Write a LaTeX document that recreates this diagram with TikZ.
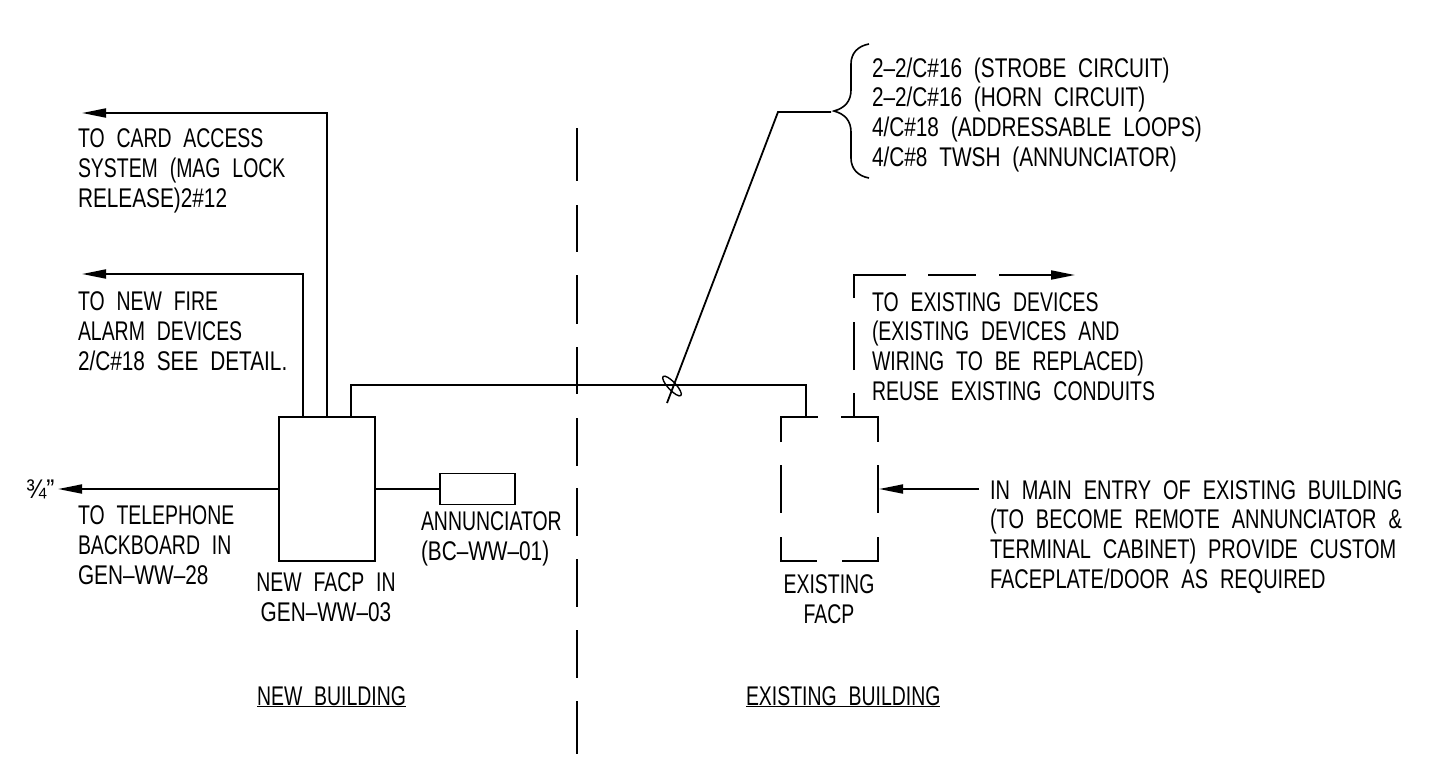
\documentclass[tikz,border=0pt]{standalone}
\usepackage{fontspec}
\setmainfont[FakeStretch=0.72,WordSpace=2.2]{Liberation Sans}
\newfontfamily\wideA[Ligatures=TeX,FakeStretch=0.77,WordSpace=2.05]{Liberation Sans}
\newfontfamily\wideB[Ligatures=TeX,FakeStretch=0.74,WordSpace=2.15]{Liberation Sans}
\newfontfamily\fracfont[FakeStretch=0.9]{Liberation Sans}
\usetikzlibrary{arrows.meta}
\tikzset{
  wire/.style={draw=black,line width=1.8pt},
  lbl/.style={inner sep=0pt,outer sep=0pt,anchor=base west,align=left,font=\fontsize{27}{29.6}\selectfont,text=black},
  ctr/.style={inner sep=0pt,outer sep=0pt,anchor=base,align=center,font=\fontsize{27}{29.6}\selectfont,text=black},
  tip/.style={-{Triangle[length=24pt,width=9pt]}},
  boxn/.style={draw=black,line width=1.8pt,inner sep=0pt,minimum width=96pt,minimum height=144pt}
}
\begin{document}
\begin{tikzpicture}[x=1pt,y=-1pt]
\useasboundingbox (0,0) rectangle (1432,761);
\node[boxn] (facp) at (327,489) {};
\node[draw=black,line width=1.8pt,inner sep=0pt,minimum width=75pt,minimum height=31pt] (ann) at (477.5,489) {};
\draw[wire] (facp.east) -- (ann.west);
\coordinate (tel) at (58,489);
\draw[wire,tip] (facp.west) -- (tel);
\node[lbl,font=\fracfont\fontsize{27}{29.6}\selectfont] (frac) at (26,498) {¾”};
\coordinate (c1) at (327,113); \coordinate (c1e) at (82,113); \coordinate (c1s) at (327,417);
\draw[wire,tip] (c1s) -- (c1) -- (c1e);
\coordinate (c2) at (303,274); \coordinate (c2e) at (82,274); \coordinate (c2s) at (303,417);
\draw[wire,tip] (c2s) -- (c2) -- (c2e);
\coordinate (m1) at (351,417); \coordinate (m2) at (351,385); \coordinate (m3) at (806,385); \coordinate (m4) at (806,417);
\draw[wire] (m1) -- (m2) -- (m3) -- (m4);
% leader and tick
\coordinate (l1) at (667,403); \coordinate (l2) at (778,112); \coordinate (l3) at (831,112);
\draw[wire] (l1) -- (l2) -- (l3);
\draw[line width=1.4pt,rotate around={-47:(672,386)}] (672,386) ellipse (13pt and 4pt);
% brace
\draw[line width=1.6pt] (869,44) .. controls (858,46) and (851,53) .. (851,64) -- (851,90) .. controls (851,101) and (845,108) .. (834,111) .. controls (845,114) and (851,121) .. (851,132) -- (851,158) .. controls (851,169) and (858,176) .. (869,178);
\node[lbl,font=\wideA\fontsize{27}{29.6}\selectfont] (t1) at (872,166) {2--2/C\#16 (STROBE CIRCUIT)\\2--2/C\#16 (HORN CIRCUIT)\\4/C\#18 (ADDRESSABLE LOOPS)\\4/C\#8 TWSH (ANNUNCIATOR)};
\node[lbl] (t2) at (78,207) {TO CARD ACCESS\\SYSTEM (MAG LOCK\\{\wideA RELEASE)2\#12}};
\node[lbl] (t3) at (78,370) {TO NEW FIRE\\ALARM DEVICES\\{\wideA 2/C\#18 SEE DETAIL.}};
\node[lbl] (t4) at (78,584) {TO TELEPHONE\\BACKBOARD IN\\{\wideA GEN--WW--28}};
\node[ctr] (t5) at (326,621) {NEW FACP IN\\{\wideA GEN--WW--03}};
\node[lbl] (t6) at (421,560) {ANNUNCIATOR\\{\wideA (BC--WW--01)}};
\node[ctr] (t7) at (829,623) {EXISTING\\FACP};
\node[lbl] (t8) at (872,400) {TO EXISTING DEVICES\\(EXISTING DEVICES AND\\WIRING TO BE REPLACED)\\REUSE EXISTING CONDUITS};
\node[lbl,font=\wideB\fontsize{27}{29.6}\selectfont] (t9) at (990,588) {IN MAIN ENTRY OF EXISTING BUILDING\\(TO BECOME REMOTE ANNUNCIATOR \&\\TERMINAL CABINET) PROVIDE CUSTOM\\FACEPLATE/DOOR AS REQUIRED};
\node[lbl] (t10) at (257,705) {\underline{NEW BUILDING}};
\node[lbl] (t11) at (746,705) {\underline{EXISTING BUILDING}};
\coordinate (d1) at (979,489); \coordinate (d2) at (879,489);
\draw[wire,tip] (d1) -- (d2);
% dashed existing panel
\draw[wire] (781,442) -- (781,417) -- (818,417);
\draw[wire] (841,417) -- (878,417) -- (878,442);
\draw[wire] (878,465) -- (878,513);
\draw[wire] (781,465) -- (781,513);
\draw[wire] (878,537) -- (878,561) -- (842,561);
\draw[wire] (781,537) -- (781,561) -- (817,561);
\draw[wire] (854,417) -- (854,393);
\draw[wire] (854,370) -- (854,322);
\draw[wire] (854,298) -- (854,275) -- (906,275);
\draw[wire] (928,275) -- (976,275);
\coordinate (x1) at (999,275); \coordinate (x2) at (1075,275);
\draw[wire,tip] (x1) -- (x2);
% centre line
\foreach \a/\b in {128/181,205/252,275/324,347/394,418/466,488/536,559/607,630/678,701/754}
  \draw[wire] (577,\a) -- (577,\b);
\end{tikzpicture}
\end{document}
